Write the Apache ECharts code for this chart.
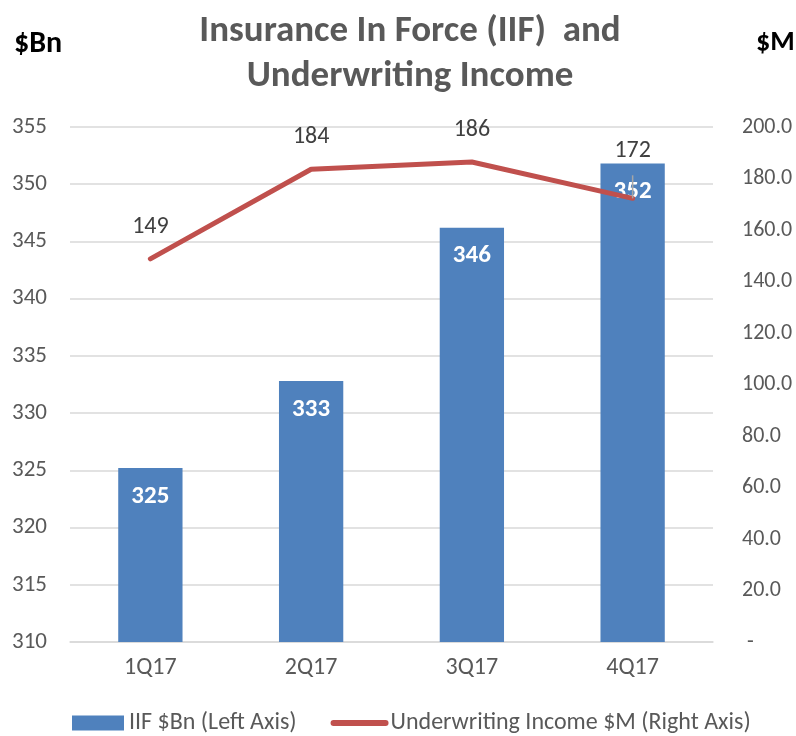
<!DOCTYPE html>
<html>
<head>
<meta charset="utf-8">
<script src="https://cdn.jsdelivr.net/npm/echarts@6/dist/echarts.min.js"></script>
<style>
  html, body { margin: 0; padding: 0; background: #fff; }
  #chart { width: 796px; height: 736px; }
</style>
</head>
<body>
<div id="chart"></div>
<script>
// 季度分类
const quarters = ['1Q17', '2Q17', '3Q17', '4Q17'];
// IIF $Bn (左轴)
const iifValues = [325.2, 332.8, 346.2, 351.8];
// 承保收入 $M (右轴)
const incomeValues = [148.8, 183.6, 186.4, 172.3];
// 坐标轴刻度
const leftTicks = [310, 355, 5];
const rightTicks = [0, 200, 20];

const FONT = 'Carlito, "Liberation Sans Narrow", "DejaVu Sans Condensed", sans-serif';
const GREY = '#595959';

// 最后一个点的标签被柱标签挡住，上移并加引线
const incomeData = incomeValues.map((v, i) => (i === 3
  ? { value: v, label: { distance: 35 }, labelLine: { show: true, lineStyle: { color: '#a6a6a6', width: 1.5 } } }
  : v));

const chart = echarts.init(document.getElementById('chart'), null, { renderer: 'canvas' });
chart.setOption({
  animation: false,
  textStyle: { fontFamily: FONT },
  title: [
    {
      text: 'Insurance In Force (IIF)  and\nUnderwriting Income',
      left: 405, top: 4, textAlign: 'center',
      textStyle: { fontFamily: FONT, fontSize: 37, fontWeight: 'bold', color: GREY, lineHeight: 45 }
    },
    {
      text: '$Bn', left: 9, top: 24,
      textStyle: { fontFamily: FONT, fontSize: 30, fontWeight: 'bold', color: '#000' }
    },
    {
      text: '$M', left: 751, top: 24,
      textStyle: { fontFamily: FONT, fontSize: 28, fontWeight: 'bold', color: '#000' }
    }
  ],
  color: ['#4F81BD', '#C0504D'],
  legend: {
    top: 711, left: 72, padding: 0,
    itemWidth: 52, itemHeight: 15, itemGap: 34,
    textStyle: { fontFamily: FONT, fontSize: 24, color: GREY },
    data: [
      { name: 'IIF $Bn (Left Axis)', icon: 'rect' },
      {
        name: 'Underwriting Income $M (Right Axis)',
        itemStyle: { opacity: 0 },
        lineStyle: { width: 6, cap: 'round', color: '#C0504D' }
      }
    ]
  },
  grid: { left: 70, right: 83, top: 127, bottom: 94, outerBoundsMode: 'none' },
  xAxis: {
    type: 'category',
    data: quarters,
    axisTick: { show: false },
    axisLine: { lineStyle: { color: '#d9d9d9', width: 1.5 } },
    axisLabel: { fontFamily: FONT, fontSize: 24, color: GREY, margin: 14 }
  },
  yAxis: [
    {
      type: 'value',
      min: leftTicks[0], max: leftTicks[1], interval: leftTicks[2],
      axisLine: { show: false },
      axisTick: { show: false },
      splitLine: { lineStyle: { color: '#d9d9d9', width: 1.5 } },
      axisLabel: { fontFamily: FONT, fontSize: 23, color: GREY, margin: 23 }
    },
    {
      type: 'value',
      min: rightTicks[0], max: rightTicks[1], interval: rightTicks[2],
      axisLine: { show: false },
      axisTick: { show: false },
      splitLine: { show: false },
      axisLabel: {
        fontFamily: FONT, fontSize: 22, color: GREY, margin: 29, align: 'left',
        formatter: v => (v === 0 ? ' -' : v.toFixed(1))
      }
    }
  ],
  series: [
    {
      name: 'IIF $Bn (Left Axis)',
      type: 'bar',
      yAxisIndex: 0,
      barWidth: '40%',
      data: iifValues,
      label: {
        show: true, position: 'insideTop', distance: 16,
        fontFamily: FONT, fontSize: 25, fontWeight: 'bold', color: '#fff',
        formatter: p => Math.round(p.value)
      }
    },
    {
      name: 'Underwriting Income $M (Right Axis)',
      type: 'line',
      yAxisIndex: 1,
      data: incomeData,
      symbol: 'circle',
      symbolSize: 0,
      showSymbol: true,
      lineStyle: { width: 5, color: '#C0504D', cap: 'round' },
      label: {
        show: true, position: 'top', distance: 20,
        fontFamily: FONT, fontSize: 24, color: '#404040',
        formatter: p => Math.round(p.value)
      },
      z: 3
    }
  ]
});
</script>
</body>
</html>
